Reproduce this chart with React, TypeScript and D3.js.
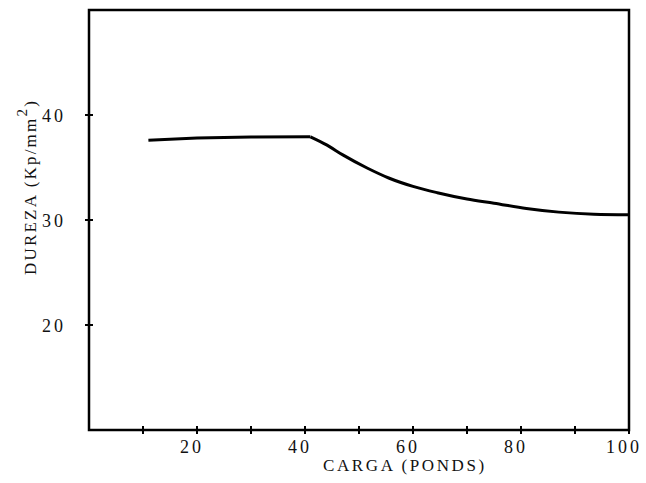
import React from 'react';
import * as d3 from 'd3';

// curve
const cargaValues = [11, 20, 30, 41, 44, 47, 51.5, 55.5, 60, 64.5, 70, 75, 81, 87, 93.5, 100];
const durezaValues = [37.6, 37.8, 37.9, 37.92, 37.15, 36.2, 34.95, 34.0, 33.2, 32.6, 32.0, 31.6, 31.1, 30.75, 30.55, 30.5];

const xTicks = [10, 20, 30, 40, 50, 60, 70, 80, 90, 100];
const xTickLabels = [20, 40, 60, 80, 100];
const yTicks = [20, 30, 40];

const FONT = '"Liberation Serif", "DejaVu Serif", serif';

export default function App() {
  const width = 646;
  const height = 483;
  const left = 89;
  const right = 629;
  const top = 10;
  const bottom = 430;

  const x = d3.scaleLinear().domain([0, 100]).range([left, right]);
  const y = d3.scaleLinear().domain([10, 50]).range([bottom, top]);

  const pts: [number, number][] = cargaValues.map((c, i) => [c, durezaValues[i]]);
  const flat = pts.slice(0, 4);
  const curve = pts.slice(3);
  const lineLin = d3.line<[number, number]>().x(d => x(d[0])).y(d => y(d[1]));
  const lineCurve = d3
    .line<[number, number]>()
    .x(d => x(d[0]))
    .y(d => y(d[1]))
    .curve(d3.curveMonotoneX);

  return (
    <svg
      width={width}
      height={height}
      style={{ position: 'absolute', left: 0, top: 0, background: '#fff' }}
    >
      <rect x={0} y={0} width={width} height={height} fill="#fff" />

      {/* frame */}
      <rect
        x={left}
        y={top}
        width={right - left}
        height={bottom - top}
        fill="none"
        stroke="#000"
        strokeWidth={2.5}
      />

      {/* x ticks */}
      {xTicks.map(t => (
        <line
          key={'xt' + t}
          x1={x(t)}
          x2={x(t)}
          y1={bottom - 4}
          y2={bottom + 4}
          stroke="#000"
          strokeWidth={2}
        />
      ))}
      {xTickLabels.map(t => (
        <text
          key={'xl' + t}
          x={x(t) - 5}
          y={bottom + 23}
          textAnchor="middle"
          fontFamily={FONT}
          fontSize={18}
          letterSpacing={3}
          fill="#111"
        >
          {t}
        </text>
      ))}
      <text
        x={x(58.5)}
        y={bottom + 41}
        textAnchor="middle"
        fontFamily={FONT}
        fontSize={17}
        letterSpacing={2.6}
        fill="#111"
      >
        CARGA (PONDS)
      </text>

      {/* y ticks */}
      {yTicks.map(t => (
        <g key={'yt' + t}>
          <line
            x1={left - 4}
            x2={left + 4}
            y1={y(t)}
            y2={y(t)}
            stroke="#000"
            strokeWidth={2}
          />
          <text
            x={left - 23}
            y={y(t) + 7}
            textAnchor="end"
            fontFamily={FONT}
            fontSize={18}
            letterSpacing={3}
            fill="#111"
          >
            {t}
          </text>
        </g>
      ))}
      <text
        transform={`translate(36, 187) rotate(-90)`}
        textAnchor="middle"
        fontFamily={FONT}
        fontSize={17}
        letterSpacing={2.2}
        fill="#111"
      >
        DUREZA (Kp/mm
        <tspan dy={-9} fontSize={15}>2</tspan>
        <tspan dy={9}>)</tspan>
      </text>

      {/* data */}
      <path d={lineLin(flat) ?? ''} fill="none" stroke="#000" strokeWidth={3} />
      <path d={lineCurve(curve) ?? ''} fill="none" stroke="#000" strokeWidth={3} />
    </svg>
  );
}
